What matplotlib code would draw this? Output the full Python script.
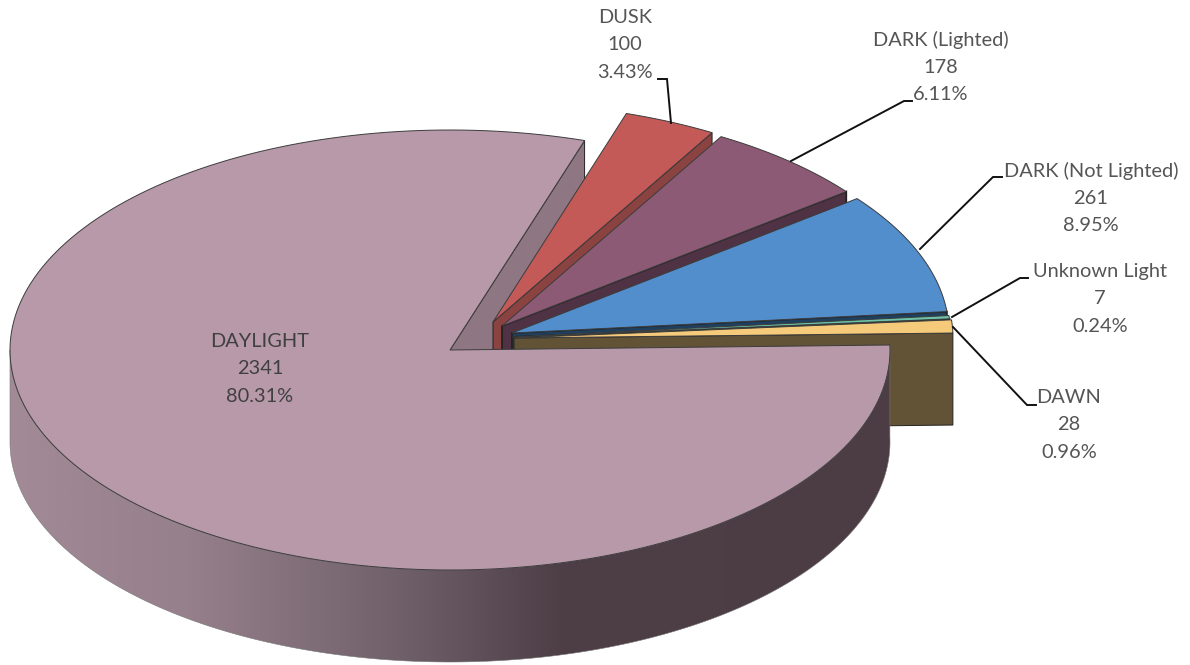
import numpy as np
from matplotlib import pyplot as plt
from matplotlib.colors import LinearSegmentedColormap
from matplotlib.patches import Polygon

names = ['DAYLIGHT', 'DUSK', 'DARK (Lighted)', 'DARK (Not Lighted)', 'Unknown Light', 'DAWN']
counts = [2341, 100, 178, 261, 7, 28]
percents = [80.31, 3.43, 6.11, 8.95, 0.24, 0.96]

top_colors = ['#b899a9', '#c35a58', '#8c5a75', '#528dcc', '#6dc2a8', '#f5ca7a']
wall_colors = ['#8e7783', '#8a4340', '#4f3244', '#1f3f5e', '#1d4a50', '#625236']

# slice apex and radii on the canvas, the pie is exploded by hand in the original
apex_x = [450, 493, 502, 512, 512, 514]
apex_y = [350, 322, 326, 333, 337, 338]
rx = [440, 436, 436, 437, 439, 439]
ry = [220, 219, 219, 219, 219, 219]
depth = 92
rot = 1.3

label_x = [260, 625, 941, 1091, 1100, 1069]
label_y = [369, 45, 67, 198, 299, 425]
leader_x = [None, [671, 667, 658], [791, 904, 912], [920, 993, 1002], [952, 1020, 1028], [953, 1027, 1036]]
leader_y = [None, [123, 79, 79], [161, 101, 101], [249, 177, 177], [317, 278, 278], [327, 405, 405]]

wall_stops = [0.0, 0.2, 0.443, 0.625, 1.0]
wall_shades = ['#a28a97', '#96808c', '#70606a', '#4e3e46', '#4c3c44']

sweep = np.array(counts) / sum(counts) * 360
ends = rot - np.cumsum(sweep)
starts = ends + sweep


def arc(i, a0, a1, n=200):
    t = np.radians(np.linspace(a0, a1, n))
    return np.column_stack([apex_x[i] + rx[i] * np.cos(t), apex_y[i] - ry[i] * np.sin(t)])


def draw_top(ax, i, z):
    pts = np.vstack([[apex_x[i], apex_y[i]], arc(i, starts[i], ends[i])])
    ax.add_patch(Polygon(pts, closed=True, fc=top_colors[i], ec='#3c3c3c', lw=0.7, zorder=z))


def draw_cut_face(ax, i, z):
    t = np.radians(ends[i])
    tx = apex_x[i] + rx[i] * np.cos(t)
    ty = apex_y[i] - ry[i] * np.sin(t)
    pts = [[apex_x[i], apex_y[i]], [tx, ty], [tx, ty + depth], [apex_x[i], apex_y[i] + depth]]
    lw = 0.7 if i in (0, 1, 5) else 1.3
    ax.add_patch(Polygon(pts, closed=True, fc=wall_colors[i], ec='#222222', lw=lw, zorder=z))


fig = plt.figure(figsize=(11.9, 6.65), dpi=100, facecolor='white')
ax = fig.add_axes([0, 0, 1, 1])
plt.rcParams['font.family'] = ['Lato', 'DejaVu Sans']

# back to front, daylight goes over everything at the end
draw_cut_face(ax, 0, 1)
for i in range(1, len(names)):
    draw_cut_face(ax, i, 2 * i)
    draw_top(ax, i, 2 * i + 1)

# outer wall of the big slice, gradient clipped to the wall shape
upper = arc(0, 180, 360 + rot, 400)
lower = upper[::-1] + [0, depth]
wall = Polygon(np.vstack([upper, lower]), closed=True, fc='none', ec='#777777', lw=0.4, zorder=21)
ax.add_patch(wall)
cmap = LinearSegmentedColormap.from_list('wall', list(zip(wall_stops, wall_shades)))
grad = ax.imshow(np.linspace(0, 1, 512)[None, :], cmap=cmap, aspect='auto', zorder=20,
                 extent=(upper[:, 0].min(), upper[:, 0].max(), 665, 300))
grad.set_clip_path(wall)
draw_top(ax, 0, 22)

for i in range(len(names)):
    txt = f'{names[i]}\n{counts[i]}\n{percents[i]:.2f}%'
    ax.text(label_x[i], label_y[i], txt, ha='center', va='center', fontsize=14.4, linespacing=1.72,
            color='#404040' if i == 0 else '#555555', zorder=30)
    if leader_x[i] is not None:
        ax.plot(leader_x[i], leader_y[i], color='#111111', lw=1.4, zorder=25, solid_joinstyle='miter')

ax.set_xlim(0, 1190)
ax.set_ylim(665, 0)
ax.axis('off')
fig.savefig('out.png', dpi=100)
